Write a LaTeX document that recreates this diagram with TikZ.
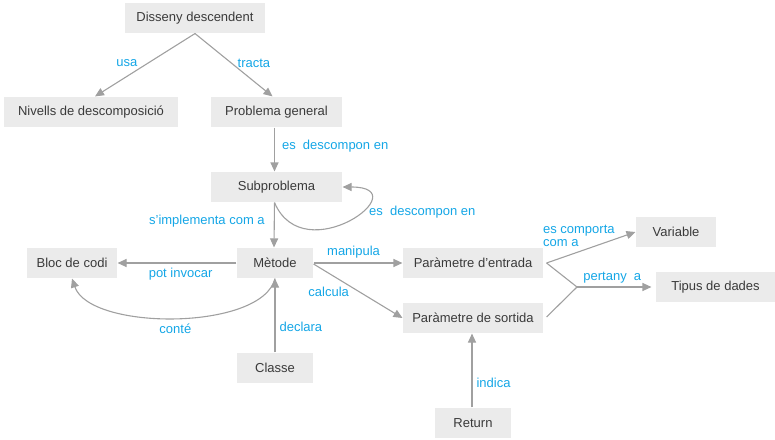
\documentclass[tikz,border=0pt]{standalone}
\usepackage{fontspec}
\setmainfont{Liberation Sans}
\usepackage{tikz}
\usetikzlibrary{arrows.meta}

\definecolor{boxgray}{HTML}{EBEBEB}
\definecolor{txtgray}{HTML}{3A3A3A}
\definecolor{linkgray}{HTML}{A0A0A0}
\definecolor{lblblue}{HTML}{14A6E6}

\tikzset{
  concept/.style={fill=boxgray,text=txtgray,minimum height=30,inner sep=0,
    font=\fontsize{13}{15}\selectfont},
  lbl/.style={text=lblblue,inner sep=0,font=\fontsize{13}{14}\selectfont},
}

\begin{document}
\begin{tikzpicture}[x=1pt,y=-1pt,->,>={Triangle[length=9,width=8]},
    draw=linkgray,line width=1.1pt]
    \useasboundingbox (0,0) rectangle (775,439);
    \node[concept,minimum width=140] (dd) at (195,18) {Disseny descendent};
    \node[concept,minimum width=174] (niv) at (91,112) {Nivells de descomposició};
    \node[concept,minimum width=131] (pg) at (276.5,112) {Problema general};
    \node[concept,minimum width=131] (sub) at (276.5,187) {Subproblema};
    \node[concept,minimum width=76] (met) at (275,263) {Mètode};
    \node[concept,minimum width=90] (bloc) at (72,263) {Bloc de codi};
    \node[concept,minimum width=76] (cls) at (275,368) {Classe};
    \node[concept,minimum width=140] (pin) at (473,263) {Paràmetre d’entrada};
    \node[concept,minimum width=140] (pout) at (473,318) {Paràmetre de sortida};
    \node[concept,minimum width=80] (var) at (676,232) {Variable};
    \node[concept,minimum width=119] (tip) at (715.5,287) {Tipus de dades};
    \node[concept,minimum width=76] (ret) at (473,423) {Return};
    \coordinate (jn) at (577,287);

    \draw[linkgray] (dd.south) -- node[lbl,pos=0.44,left=13pt,yshift=-2] {usa} ([xshift=4]niv.north);
    \draw[linkgray] (dd.south) -- node[lbl,pos=0.44,right=8pt,yshift=-2] {tracta} ([xshift=-4]pg.north);
    \draw[linkgray] ([xshift=-2]pg.south) -- node[lbl,pos=0.42,right=7pt] {es\ \ descompon en} ([xshift=-2]sub.north);
    \draw[linkgray] ([xshift=-2]sub.south) .. controls (304,272) and (420,187) .. (sub.east)
      node[lbl,pos=0.7,anchor=north west,xshift=1,yshift=-2] {es\ \ descompon en};
    \draw[linkgray] ([xshift=-2]sub.south) -- node[lbl,pos=0.42,left=9pt] {s'implementa com a} ([xshift=-1]met.north);
    \draw[linkgray] (met.west) -- node[lbl,pos=0.47,below=5pt] {pot invocar} (bloc.east);
    \draw[linkgray] (met.south) .. controls (262,331) and (90,331) .. (bloc.south)
      node[lbl,pos=0.5,below=5pt] {conté};
    \draw[linkgray] (cls.north) -- node[lbl,pos=0.35,right=4pt] {declara} (met.south);
    \draw[linkgray] (met.east) -- node[lbl,pos=0.45,above=4pt] {manipula} (pin.west);
    \draw[linkgray] ([yshift=-1]met.east) -- node[lbl,pos=0.17,below=13pt] {calcula} (pout.west);
    \draw[linkgray] ([xshift=3]pin.east) -- node[lbl,pos=0,anchor=south west,align=left,xshift=-4,yshift=16,
      font=\fontsize{13}{13}\selectfont] {es comporta\\com a} (var.west);
    \draw[linkgray,-] ([xshift=3]pin.east) -- (jn);
    \draw[linkgray,-] ([xshift=3,yshift=1]pout.east) -- (jn);
    \draw[linkgray,shorten >=4] (jn) -- node[lbl,pos=0.45,above=3pt] {pertany\ \ a} (tip.west);
    \draw[linkgray] ([xshift=-1]ret.north) -- node[lbl,pos=0.33,right=4pt] {indica} ([xshift=-1]pout.south);
\end{tikzpicture}
\end{document}
